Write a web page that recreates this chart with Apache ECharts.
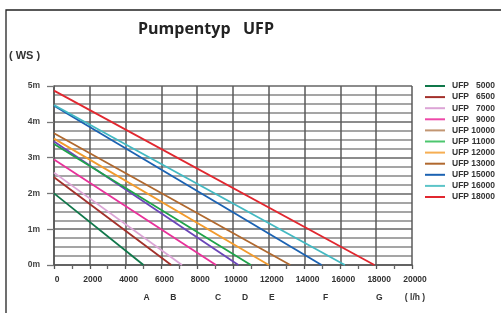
<!DOCTYPE html>
<html>
<head>
  <meta charset="UTF-8">
  <title>Pumpentyp UFP</title>
  <style>
    html, body { margin: 0; padding: 0; background: #fff; }
    #chart { width: 501px; height: 313px; }
  </style>
  <script src="https://cdn.jsdelivr.net/npm/echarts@6/dist/echarts.min.js"></script>
</head>
<body>
<div id="chart"></div>
<script>
  // pump models, head at zero flow (m), max flow at zero head (l/h)
  var models = ['5000', '6500', '7000', '9000', '10000', '11000', '12000', '13000', '15000', '16000', '18000'];
  var maxHead = [2.0, 2.45, 2.58, 2.95, 3.45, 3.38, 3.53, 3.68, 4.45, 4.47, 4.87];
  var maxFlow = [5000, 6550, 7150, 9050, 10300, 11000, 12000, 13200, 14950, 16250, 17900];
  var lineColors = ['#10774a', '#a3302b', '#dca4d6', '#e8329a', '#6a45b8', '#1fa34a', '#f29a2c', '#b0682e', '#1b62b2', '#43b9c2', '#e1272f'];
  var legendColors = ['#10774a', '#a3302b', '#dca4d6', '#ee48a8', '#c29672', '#4cc66e', '#f6ae52', '#b0682e', '#1b62b2', '#5cc4c8', '#e1272f'];

  var yTicks = ['0m', '1m', '2m', '3m', '4m', '5m'];
  var letterPos = [5000, 6500, 9000, 10500, 12000, 15000, 18000, 20000];
  var letterText = ['A', 'B', 'C', 'D', 'E', 'F', 'G', '( l/h )'];

  var chart = echarts.init(document.getElementById('chart'));

  var series = [];
  var legendData = [];
  for (var i = 0; i < models.length; i++) {
    var name = 'UFP ' + models[i];
    series.push({
      name: name,
      type: 'line',
      symbol: 'none',
      lineStyle: { color: lineColors[i], width: 1.8 },
      itemStyle: { color: lineColors[i] },
      data: [[0, maxHead[i]], [maxFlow[i], 0]]
    });
    legendData.push({ name: name, itemStyle: { color: legendColors[i] } });
  }

  var labelFont = { fontFamily: 'Liberation Sans', fontWeight: 'bold', fontSize: 8.5, color: '#333' };

  var option = {
    animation: false,
    backgroundColor: '#fff',
    title: {
      text: 'Pumpentyp   UFP',
      left: 133,
      top: 16,
      textStyle: { fontFamily: 'Open Sans', fontWeight: 'bold', fontSize: 16, color: '#222' }
    },
    graphic: [
      {
        // frame, open to the right and bottom like the scanned page
        type: 'polyline',
        shape: { points: [[6, 400], [6, 10], [700, 10]] },
        style: { fill: null, stroke: '#222', lineWidth: 1.3 },
        silent: true
      },
      {
        type: 'text',
        left: 9,
        top: 50,
        style: { text: '( WS )', font: 'bold 11px "Liberation Sans"', fill: '#333' }
      }
    ],
    legend: {
      orient: 'vertical',
      left: 420,
      top: 76,
      icon: 'rect',
      itemWidth: 20,
      itemHeight: 2,
      itemGap: 1.1,
      data: legendData,
      textStyle: {
        fontFamily: 'Liberation Sans',
        fontWeight: 'bold',
        fontSize: 8.5,
        lineHeight: 10,
        color: '#333',
        rich: {
          u: { width: 16, padding: [0, 0, 0, 2], fontFamily: 'Liberation Sans', fontWeight: 'bold', fontSize: 8.5, color: '#333' },
          n: { width: 27, align: 'right', fontFamily: 'Liberation Sans', fontWeight: 'bold', fontSize: 8.5, color: '#333' }
        }
      },
      formatter: function (name) {
        var parts = name.split(' ');
        return '{u|' + parts[0] + '}{n|' + parts[1] + '}';
      }
    },
    grid: { left: 54, right: 89, top: 86, bottom: 48, containLabel: false },
    xAxis: [
      {
        type: 'value',
        min: 0,
        max: 20000,
        interval: 2000,
        axisLine: { show: true, lineStyle: { color: '#555', width: 1.5 } },
        axisTick: { show: true, length: 4, lineStyle: { color: '#555', width: 1.3 } },
        minorTick: { show: true, splitNumber: 2, length: 4, lineStyle: { color: '#666', width: 1.3 } },
        splitLine: { show: true, lineStyle: { color: '#5a5a5a', width: 1.5 } },
        axisLabel: Object.assign({
          margin: 10,
          padding: [0, 0, 0, 6],
          formatter: function (v) { return String(v); }
        }, labelFont)
      },
      {
        type: 'value',
        min: 0,
        max: 20000,
        position: 'bottom',
        offset: 18,
        axisLine: { show: false },
        axisTick: { show: false },
        splitLine: { show: false },
        axisLabel: Object.assign({
          margin: 10,
          padding: [0, 0, 0, 6],
          customValues: letterPos,
          formatter: function (v) {
            var k = letterPos.indexOf(v);
            return k >= 0 ? letterText[k] : '';
          }
        }, labelFont)
      }
    ],
    yAxis: {
      type: 'value',
      min: 0,
      max: 5,
      interval: 1,
      axisLine: { show: true, lineStyle: { color: '#555', width: 1.5 } },
      axisTick: { show: true, length: 7, lineStyle: { color: '#777', width: 1.3 } },
      splitLine: { show: true, lineStyle: { color: '#666', width: 1.5 } },
      minorTick: { show: false, splitNumber: 4 },
      minorSplitLine: { show: true, lineStyle: { color: '#888', width: 1.5 } },
      axisLabel: Object.assign({
        margin: 14,
        formatter: function (v) { return yTicks[v]; }
      }, labelFont, { color: '#444' })
    },
    series: series
  };

  chart.setOption(option);
</script>
</body>
</html>
